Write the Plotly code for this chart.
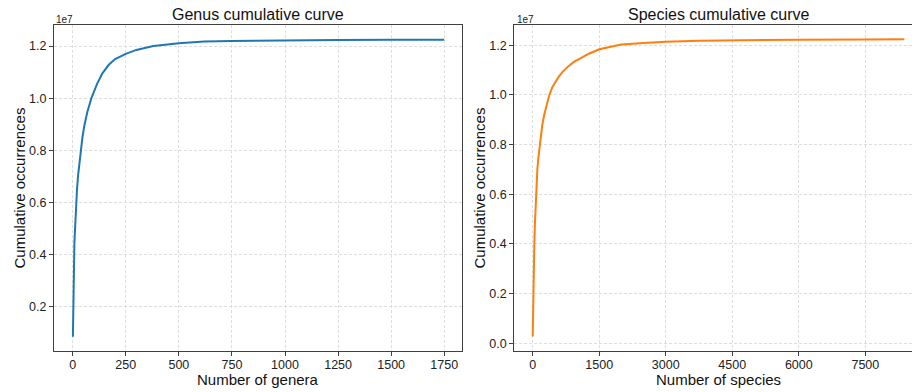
import plotly.graph_objects as go

# ---- data (cumulative occurrences, in units of 1e7) ----
genus_rank = [1, 2, 3, 4, 5, 6, 8, 10, 13, 16, 20, 25, 31, 38, 46, 55, 69, 88, 115, 140,
              170, 200, 250, 300, 380, 500, 620, 750, 1000, 1250, 1500, 1750]
genus_cum_e7 = [0.085, 0.16, 0.23, 0.29, 0.34, 0.38, 0.44, 0.48, 0.54, 0.59, 0.645, 0.70,
                0.75, 0.80, 0.85, 0.895, 0.947, 1.00, 1.055, 1.095, 1.128, 1.15, 1.17,
                1.185, 1.20, 1.211, 1.217, 1.2195, 1.2222, 1.2235, 1.2241, 1.2243]

species_rank = [1, 3, 6, 10, 15, 22, 30, 37, 50, 62, 75, 90, 105, 130, 157, 185, 217, 260,
                300, 340, 367, 440, 517, 590, 667, 800, 930, 1100, 1267, 1500, 2000, 2500,
                3000, 3750, 4500, 6000, 7500, 8380]
species_cum_e7 = [0.027, 0.06, 0.10, 0.15, 0.20, 0.27, 0.34, 0.40, 0.48, 0.54, 0.60, 0.65,
                  0.70, 0.75, 0.80, 0.84, 0.88, 0.92, 0.952, 0.978, 0.995, 1.03, 1.055,
                  1.074, 1.092, 1.115, 1.133, 1.151, 1.166, 1.184, 1.203, 1.209, 1.2145,
                  1.218, 1.220, 1.2225, 1.2235, 1.224]

genus_xticks = [0, 250, 500, 750, 1000, 1250, 1500, 1750]
species_xticks = [0, 1500, 3000, 4500, 6000, 7500]
genus_yticks = [0.2, 0.4, 0.6, 0.8, 1.0, 1.2]
species_yticks = [0.0, 0.2, 0.4, 0.6, 0.8, 1.0, 1.2]

titles = ["Genus cumulative curve", "Species cumulative curve"]
xlabels = ["Number of genera", "Number of species"]
ylabel = "Cumulative occurrences"
scale_label = "1e7"

W, H = 912, 392
FONT = "Liberation Sans, Arial, Helvetica, sans-serif"
SPINE = "#3f3f3f"
GRID = "#dedede"

fig = go.Figure()
fig.add_trace(go.Scatter(x=genus_rank, y=genus_cum_e7, mode="lines",
                         line=dict(color="#1f77b4", width=2),
                         xaxis="x", yaxis="y", showlegend=False))
fig.add_trace(go.Scatter(x=species_rank, y=species_cum_e7, mode="lines",
                         line=dict(color="#ff7f0e", width=2),
                         xaxis="x2", yaxis="y2", showlegend=False))

def px(x):
    return x / W

def py(y):
    return 1 - y / H

ydom = [py(350.7), py(25)]
common = dict(showline=True, linecolor=SPINE, linewidth=1, ticks="outside", ticklen=4,
              tickcolor=SPINE, tickwidth=1, showgrid=True, gridcolor=GRID, gridwidth=0.8,
              griddash="3px,2px", zeroline=False, automargin=False,
              tickfont=dict(family=FONT, size=12.5, color="#222"))

fig.update_layout(
    width=W, height=H, margin=dict(l=0, r=0, t=0, b=0),
    paper_bgcolor="white", plot_bgcolor="white",
    font=dict(family=FONT, color="#222"),
    xaxis=dict(domain=[px(54), px(462.3)], range=[-88, 1835], anchor="y", mirror=True,
               ticklabelstandoff=-2,
               tickvals=genus_xticks, ticktext=[str(v) for v in genus_xticks], **common),
    yaxis=dict(domain=ydom, range=[0.0312, 1.2806], anchor="x", mirror=True,
               tickvals=genus_yticks, ticktext=[f"{v:.1f}" for v in genus_yticks], **common),
    xaxis2=dict(domain=[px(514.1), 1.0], range=[-419, 8552], anchor="y2", mirror=True,
                ticklabelstandoff=-2,
                tickvals=species_xticks, ticktext=[str(v) for v in species_xticks], **common),
    yaxis2=dict(domain=ydom, range=[-0.0298, 1.2817], anchor="x2", mirror=False,
                tickvals=species_yticks, ticktext=[f"{v:.1f}" for v in species_yticks], **common),
)

anns = []
centers = [258, 718.5]
for i, cx in enumerate(centers):
    anns.append(dict(text=titles[i], x=px(cx), y=py(14.5), xref="paper", yref="paper",
                     xanchor="center", yanchor="middle", showarrow=False,
                     font=dict(family=FONT, size=16, color="#111")))
    anns.append(dict(text=xlabels[i], x=px(cx), y=py(379.5), xref="paper", yref="paper",
                     xanchor="center", yanchor="middle", showarrow=False,
                     font=dict(family=FONT, size=15, color="#111")))
for cx in [18.5, 478.5]:
    anns.append(dict(text=ylabel, x=px(cx), y=py(188), xref="paper", yref="paper",
                     xanchor="center", yanchor="middle", textangle=-90, showarrow=False,
                     font=dict(family=FONT, size=15, color="#111")))
for lx in [54, 514.5]:
    anns.append(dict(text=scale_label, x=px(lx), y=py(20), xref="paper", yref="paper",
                     xanchor="left", yanchor="middle", showarrow=False,
                     font=dict(family=FONT, size=10, color="#222")))
fig.update_layout(annotations=anns)

fig.write_html("out.html", config={"displayModeBar": False},
               post_script="document.body.style.margin='0';document.body.style.padding='0';"
                           "document.documentElement.style.overflow='hidden';")
